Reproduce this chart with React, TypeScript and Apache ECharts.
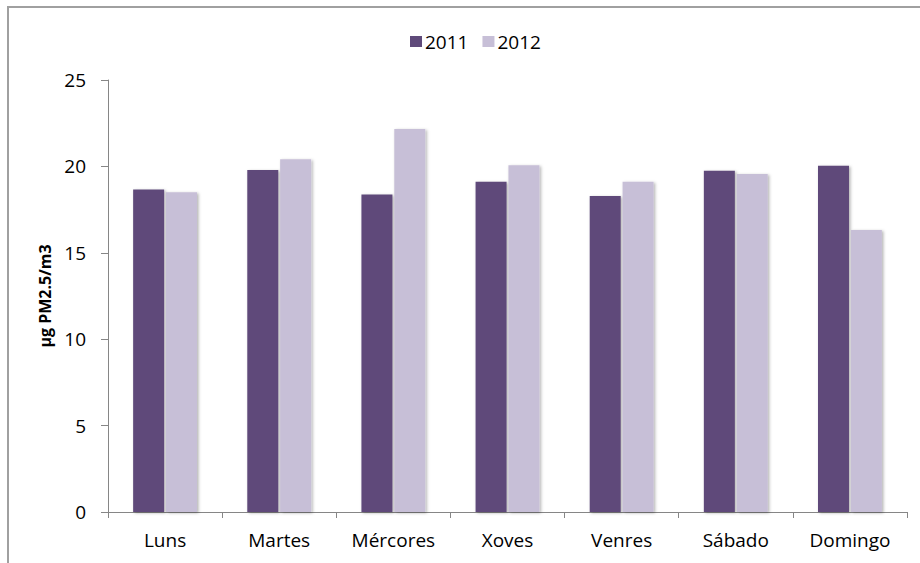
import React, { useEffect, useRef } from "react";
import * as echarts from "echarts";

const categories = ["Luns", "Martes", "Mércores", "Xoves", "Venres", "Sábado", "Domingo"];
const values2011 = [18.67, 19.79, 18.38, 19.11, 18.29, 19.75, 20.04];
const values2012 = [18.5, 20.41, 22.16, 20.06, 19.11, 19.56, 16.32];
const seriesNames = ["2011", "2012"];
const yTicks = { min: 0, max: 25, interval: 5 };
const yAxisTitle = "µg PM2.5/m3";

const FONT = "'Open Sans', sans-serif";

export default function App() {
  const ref = useRef<HTMLDivElement>(null);
  useEffect(() => {
    if (!ref.current) return;
    const chart = echarts.init(ref.current, undefined, { renderer: "svg" });
    const barShadow = {
      shadowColor: "rgba(0,0,0,0.3)",
      shadowBlur: 3,
      shadowOffsetX: 1.5,
      shadowOffsetY: 1,
    };
    chart.setOption({
      animation: false,
      backgroundColor: "#fff",
      textStyle: { fontFamily: FONT },
      graphic: [
        {
          type: "rect",
          shape: { x: 8, y: 7, width: 930, height: 600 },
          style: { fill: "none", stroke: "#a0a0a0", lineWidth: 2 },
          silent: true,
          z: -1,
        },
      ],
      legend: {
        data: seriesNames,
        top: 27,
        left: 405,
        icon: "rect",
        itemWidth: 12,
        itemHeight: 11,
        itemGap: 14,
        textStyle: { fontFamily: FONT, fontSize: 19, color: "#000", padding: [0, 0, 0, -2] },
      },
      grid: { left: 108, right: 13, top: 80, bottom: 51, containLabel: false },
      xAxis: {
        type: "category",
        data: categories,
        boundaryGap: true,
        axisLine: { lineStyle: { color: "#868686", width: 1 } },
        axisTick: { show: true, alignWithLabel: false, length: 6, lineStyle: { color: "#868686" } },
        axisLabel: { fontFamily: FONT, fontSize: 19, color: "#000", margin: 18, interval: 0 },
      },
      yAxis: {
        type: "value",
        min: yTicks.min,
        max: yTicks.max,
        interval: yTicks.interval,
        name: yAxisTitle,
        nameLocation: "middle",
        nameGap: 47,
        nameRotate: 90,
        nameTextStyle: { fontFamily: FONT, fontSize: 16, fontWeight: "bold", color: "#000", padding: [0, 0, 0, 0] },
        axisLine: { show: true, lineStyle: { color: "#868686", width: 1 } },
        axisTick: { show: true, length: 7, lineStyle: { color: "#868686" } },
        axisLabel: { fontFamily: FONT, fontSize: 19, color: "#000", margin: 22 },
        splitLine: { show: false },
      },
      series: [
        {
          name: seriesNames[0],
          type: "bar",
          data: values2011,
          barWidth: 31,
          barGap: "6%",
          itemStyle: { color: "#5f4a7a", ...barShadow },
        },
        {
          name: seriesNames[1],
          type: "bar",
          data: values2012,
          barWidth: 31,
          barGap: "6%",
          itemStyle: { color: "#c7bfd7", ...barShadow },
        },
      ],
    });
    return () => chart.dispose();
  }, []);
  return (
    <div
      ref={ref}
      style={{ position: "absolute", left: 0, top: 0, width: 920, height: 563 }}
    />
  );
}
